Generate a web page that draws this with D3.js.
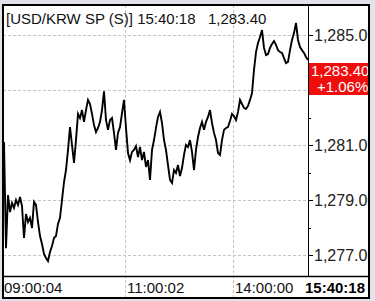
<!DOCTYPE html>
<html>
<head>
<meta charset="utf-8">
<script src="https://cdn.jsdelivr.net/npm/d3@7"></script>
<style>
  body { margin: 0; background: #e2e3e8; }
  text { font-family: "Liberation Sans", Arial, sans-serif; }
</style>
</head>
<body>
<div id="chart"></div>
<script>
// quote info
const symbol = "[USD/KRW SP (S)]";
const lastTime = "15:40:18";
const lastPrice = 1283.40;
const changePct = 1.06;

// price ticks, left to right
const prices = [
  1281.11, 1277.25, 1279.18, 1278.56, 1278.89, 1278.71, 1279.00, 1278.82, 1279.11, 1278.78,
  1277.62, 1278.49, 1278.20, 1278.35, 1277.98, 1278.93, 1278.82, 1278.20, 1277.69, 1277.40,
  1277.04, 1276.89, 1276.78, 1277.11, 1277.33, 1277.62, 1277.69, 1278.13, 1278.35, 1279.00,
  1279.65, 1280.09, 1280.82, 1281.65, 1281.00, 1280.35, 1281.18, 1282.13, 1281.98, 1282.27,
  1281.84, 1282.27, 1282.64, 1282.49, 1282.13, 1281.73, 1281.47, 1281.62, 1281.84, 1282.27,
  1282.95, 1281.91, 1281.55, 1281.91, 1281.98, 1281.44, 1280.82, 1281.44, 1281.65, 1282.16,
  1282.64, 1281.62, 1280.71, 1280.45, 1280.75, 1280.82, 1280.96, 1280.56, 1280.93, 1280.45,
  1280.75, 1280.20, 1280.45, 1279.73, 1280.82, 1281.18, 1281.62, 1282.02, 1282.20, 1281.80,
  1281.18, 1280.82, 1280.27, 1279.73, 1279.62, 1280.09, 1279.98, 1280.27, 1279.87, 1280.16,
  1280.64, 1281.00, 1280.93, 1281.18, 1280.75, 1280.09, 1280.82, 1281.29, 1281.62, 1281.84,
  1281.55, 1281.84, 1282.02, 1282.27, 1281.80, 1281.44, 1281.18, 1280.71, 1280.64, 1281.18,
  1281.55, 1281.62, 1281.65, 1281.87, 1282.13, 1282.05, 1281.91, 1282.20, 1282.64, 1282.49,
  1282.35, 1282.31, 1282.42, 1282.64, 1282.89, 1283.73, 1284.38, 1284.71, 1284.93, 1285.18,
  1284.53, 1284.27, 1284.31, 1284.53, 1284.67, 1284.78, 1284.64, 1284.45, 1284.38, 1284.35,
  1284.16, 1283.98, 1284.02, 1284.45, 1284.82, 1285.07, 1285.44, 1284.82, 1284.56, 1284.45,
  1284.35, 1284.20, 1284.09
];

// axis ticks
const yTicks = [1277, 1279, 1281, 1283, 1285];
const yMinorTicks = [1276, 1278, 1280, 1282, 1284];
const xTickIdx = [0, 60.5, 114.5];
const xTickLabels = ["09:00:04", "11:00:02", "14:00:00"];

const w = 375, h = 301;
const frame = {left: 3, top: 5, right: 369, bottom: 298};
const plotRight = 308, plotBottom = 276;

const svg = d3.select("#chart").append("svg")
  .attr("width", w).attr("height", h);

svg.append("defs").append("clipPath").attr("id", "frameClip")
  .append("rect")
  .attr("x", frame.left).attr("y", frame.top)
  .attr("width", frame.right - frame.left).attr("height", frame.bottom - frame.top);

svg.append("rect")
  .attr("x", frame.left).attr("y", frame.top)
  .attr("width", frame.right - frame.left).attr("height", frame.bottom - frame.top)
  .attr("fill", "#fff");

const x = d3.scaleLinear()
  .domain([0, prices.length - 1])
  .range([4, plotRight]);

const y = d3.scaleLinear()
  .domain([1277, 1285])
  .range([255, 35]);

const g = svg.append("g").attr("clip-path", "url(#frameClip)");

// grid
g.append("g").selectAll("line")
  .data(yTicks)
  .enter().append("line")
  .attr("x1", frame.left).attr("x2", plotRight)
  .attr("y1", d => Math.round(y(d)) + 0.5).attr("y2", d => Math.round(y(d)) + 0.5)
  .attr("stroke", "#c4c4c4")
  .attr("stroke-dasharray", "3,2");

g.append("g").selectAll("line")
  .data(xTickIdx.slice(1))
  .enter().append("line")
  .attr("x1", d => Math.round(x(d)) + 0.5).attr("x2", d => Math.round(x(d)) + 0.5)
  .attr("y1", frame.top).attr("y2", frame.bottom)
  .attr("stroke", "#c4c4c4")
  .attr("stroke-dasharray", "3,2");

// price line
g.append("path")
  .datum(prices)
  .attr("d", d3.line().x((d, i) => x(i)).y(d => y(d)))
  .attr("fill", "none")
  .attr("stroke", "#000")
  .attr("stroke-width", 1.9)
  .attr("stroke-linejoin", "miter");

// right axis (label hidden behind the last price box is not drawn)
const ly = y(lastPrice);
const axis = g.append("g")
  .attr("transform", `translate(${plotRight},0)`)
  .call(d3.axisRight(y).tickValues(yTicks).tickSize(5).tickPadding(1)
    .tickFormat(d => Math.abs(y(d) - ly) < 18 ? "" : d3.format(",.2f")(d)));
axis.select(".domain").remove();
axis.selectAll("text").attr("font-size", 16).attr("fill", "#222")
  .attr("font-family", "'Liberation Sans', Arial, sans-serif");

g.append("g").selectAll("line")
  .data(yMinorTicks)
  .enter().append("line")
  .attr("x1", plotRight).attr("x2", plotRight + 3)
  .attr("y1", d => Math.round(y(d)) + 0.5).attr("y2", d => Math.round(y(d)) + 0.5)
  .attr("stroke", "#000");

// last price box
g.append("rect")
  .attr("x", plotRight).attr("y", ly - 16)
  .attr("width", frame.right - plotRight).attr("height", 32)
  .attr("fill", "#f20d0d");
g.append("text")
  .attr("x", plotRight + 3).attr("y", ly - 3)
  .attr("font-size", 15).attr("fill", "#fff")
  .text(d3.format(",.2f")(lastPrice));
g.append("text")
  .attr("x", plotRight + 9).attr("y", ly + 13)
  .attr("font-size", 15).attr("fill", "#fff")
  .text("+" + d3.format(".2f")(changePct) + "%");

// separators
svg.append("line")
  .attr("x1", plotRight + 0.5).attr("x2", plotRight + 0.5)
  .attr("y1", frame.top).attr("y2", plotBottom)
  .attr("stroke", "#000");
svg.append("line")
  .attr("x1", frame.left).attr("x2", frame.right)
  .attr("y1", plotBottom + 0.5).attr("y2", plotBottom + 0.5)
  .attr("stroke", "#000").attr("stroke-width", 1.5);

// x labels
g.append("g").selectAll("text")
  .data(xTickIdx)
  .enter().append("text")
  .attr("x", d => x(d) + (d === 0 ? 0 : 2))
  .attr("y", 293)
  .attr("font-size", 15)
  .attr("fill", "#111")
  .text((d, i) => xTickLabels[i]);

g.append("text")
  .attr("x", 365).attr("y", 293)
  .attr("text-anchor", "end")
  .attr("font-size", 15).attr("font-weight", "bold")
  .text(lastTime);

// title
g.append("text")
  .attr("x", 6).attr("y", 24)
  .attr("font-size", 15).attr("fill", "#111")
  .text(symbol + " " + lastTime);
g.append("text")
  .attr("x", 208).attr("y", 24)
  .attr("font-size", 15).attr("fill", "#111")
  .text(d3.format(",.2f")(lastPrice));

// frame border
svg.append("rect")
  .attr("x", frame.left).attr("y", frame.top)
  .attr("width", frame.right - frame.left).attr("height", frame.bottom - frame.top)
  .attr("fill", "none").attr("stroke", "#000").attr("stroke-width", 2);
</script>
</body>
</html>
